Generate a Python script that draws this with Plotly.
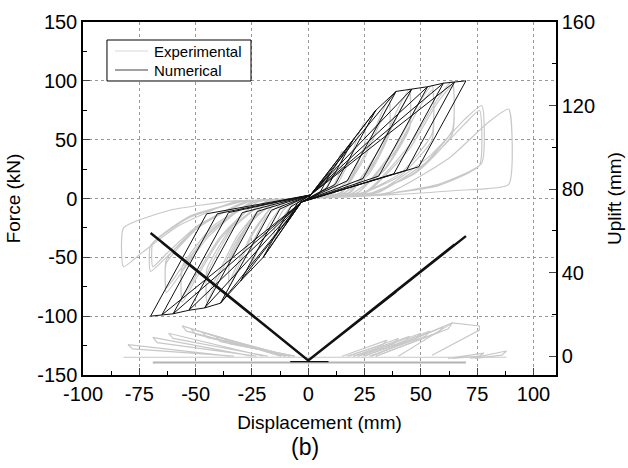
import plotly.graph_objects as go

# ---- numerical model: loop parameters ----
num_amp = [10, 20, 30, 39, 46, 53, 60, 65, 70]
num_peak_pos = [22, 50, 75, 91, 93, 95, 98, 99, 100]
num_peak_neg = [-22, -50, -70, -89, -93, -95, -98, -99, -100]
num_unload_x_pos = [4.9, 8.3, 12.0, 17.3, 24.3, 31.3, 38.0, 43.6, 49.1]
num_unload_f_pos = [4, 9, 12, 15, 17, 19, 21, 24, 27]
num_unload_x_neg = [-4.9, -7.7, -12.6, -16.4, -22.6, -29.3, -35.4, -40.4, -45.1]
num_unload_f_neg = [-4, -7, -9, -10, -11, -12, -12, -13, -13]
num_pinch_pos = [1, 3]
num_pinch_neg = [-3, -3]

num_uplift_pos = [6.5, 15, 23.5, 31, 37, 43, 49, 53.5, 57.5]
num_uplift_neg = [6.7, 15.4, 24, 32, 38, 44, 50, 54.5, 59]
num_uplift_base = -2
num_flat_disp = [-8, 9]
num_flat_uplift = [-2.6, -2.6]

# ---- experimental force-displacement (cycle by cycle) ----
exp_disp = [
    0, 6, 10.5, 13.5, 15, 15, 11.2, 6,
    0, -6, -10.5, -13.5, -15, -15, -11.2, -6,
    0, 10, 17.5, 22.5, 25, 25, 18.8, 10,
    0, -10, -17.5, -22.5, -25, -25, -18.8, -10,
    0, 14.4, 25.2, 32.4, 36, 36, 27, 14.4,
    0, -14, -24.5, -31.5, -35, -35, -26.2, -14,
    0, 14.4, 25.2, 32.4, 36, 36, 27, 14.4,
    0, -14, -24.5, -31.5, -35, -35, -26.2, -14,
    0, 18, 31.5, 40.5, 45, 45, 33.8, 18,
    0, -18, -31.5, -40.5, -45, -45, -33.8, -18,
    0, 18, 31.5, 40.5, 45, 45, 33.8, 18,
    0, -18, -31.5, -40.5, -45, -45, -33.8, -18,
    0, 22, 38.5, 49.5, 55, 55, 41.3, 22,
    0, -22.4, -39.2, -50.4, -56, -56, -42, -22.4,
    0, 22, 38.5, 49.5, 55, 55, 41.3, 22,
    0, -22.4, -39.2, -50.4, -56, -56, -42, -22.4,
    0, 25.6, 44.8, 57.6, 64, 64, 48, 25.6,
    0, -25.2, -44.1, -56.7, -63, -63, -47.2, -25.2,
    0, 25.6, 44.8, 57.6, 64, 64, 48, 25.6,
    0, -25.2, -44.1, -56.7, -63, -63, -47.2, -25.2,
    0, 30.8, 53.9, 69.3, 77, 77, 57.8, 30.8,
    0, -28, -49, -63, -70, -70, -52.5, -28,
    0, 30.8, 53.9, 69.3, 76, 76, 57.8, 30.8,
    0, -28, -49, -63, -69, -69, -52.5, -28,
    0, 35.6, 62.3, 80.1, 89, 89, 66.8, 35.6,
    0, -32.8, -57.4, -73.8, -82, -82, -61.5, -32.8, 0,
]
exp_force = [
    0, 4, 18, 34, 40, 28, 11, 3,
    0, -3, -14, -28, -35, -25, -10, -2,
    0, 4, 29, 55, 65, 45, 18, 3,
    0, -3, -22, -44, -55, -40, -16, -2,
    0, 5, 38, 72, 85, 58, 23, 3,
    0, -3, -30, -60, -75, -55, -22, -2,
    0, 4, 35, 67, 80, 55, 21, 3,
    0, -3, -28, -56, -70, -52, -20, -2,
    0, 5, 42, 79, 93, 62, 25, 3,
    0, -3, -35, -70, -88, -65, -26, -2,
    0, 4, 38, 74, 88, 60, 24, 3,
    0, -3, -32, -66, -82, -60, -24, -2,
    0, 5, 43, 82, 96, 55, 22, 3,
    0, -3, -35, -70, -88, -62, -25, -2,
    0, 5, 40, 78, 92, 50, 20, 3,
    0, -3, -33, -67, -84, -58, -23, -2,
    0, 6, 45, 85, 100, 58, 23, 3,
    0, -3, -32, -64, -80, -55, -22, -2,
    0, 5, 42, 82, 96, 55, 22, 3,
    0, -3, -30, -60, -76, -52, -21, -2,
    0, 6, 36, 67, 79, 30, 12, 3,
    0, -3, -25, -50, -62, -40, -16, -2,
    0, 5, 33, 63, 75, 28, 11, 3,
    0, -3, -23, -47, -58, -38, -15, -2,
    0, 5, 34, 65, 76, 12, 7, 3,
    0, -3, -23, -46, -58, -25, -10, -2, 0,
]

# ---- experimental uplift ----
exp_uplift_disp = [
    -35, -80, -78, -33, None, -25, -69, -67, -23, None,
    -20, -62, -60, -18, None, -12, -56, -54, -10, None,
    -12, -52, -50, -10, None, -10, -47, -45, -8, None,
    -8, -41, -39, -6, None, -8, -37, -35, -6, None,
    15, 35, 33, 17, None, 18, 40, 38, 20, None,
    20, 45, 43, 22, None, 22, 50, 48, 24, None,
    25, 54, 52, 27, None, 28, 60, 58, 30, None,
    28, 64, 62, 30, None, 40, 64, 76, 76, 55, None,
    62, 78, 76, 64, None, 72, 88, 86, 74, None,
    -82, 88,
]
exp_uplift = [
    0, 5.5, 3.5, 0, None, 0, 9, 6.5, 0, None,
    0, 11, 8.5, 0, None, 0, 14.5, 12, 0, None,
    0, 13, 10.5, 0, None, 0, 11.5, 9, 0, None,
    0, 9.5, 7, 0, None, 0, 8, 6, 0, None,
    0, 7.7, 5.5, 0, None, 0, 8.5, 6, 0, None,
    0, 9.5, 7, 0, None, 0, 11, 8.5, 0, None,
    0, 12, 9.5, 0, None, 0, 14, 11.5, 0, None,
    0, 16, 13, 0, None, 0, 16, 14.5, 12.5, 0.5, None,
    -1, 1.5, 0, -1, None, -1, 2.5, 0.5, -1, None,
    -0.5, -0.5,
]
exp_base_disp = [-69, 70]
exp_base_uplift = [-3, -3]

legend_names = ['Experimental', 'Numerical']

x_tickvals = [-100, -75, -50, -25, 0, 25, 50, 75, 100]
x_ticktext = ['-100', '-75', '-50', '-25', '0', '25', '50', '75', '100']
y_tickvals = [-150, -100, -50, 0, 50, 100, 150]
y_ticktext = ['-150', '-100', '-50', '0', '50', '100', '150']
y2_tickvals = [0, 40, 80, 120, 160]
y2_ticktext = ['0', '40', '80', '120', '160']

# build the numerical paths from the read parameters
num_disp, num_force = [0, num_pinch_pos[0]], [0, num_pinch_pos[1]]
up_disp, up_val = [0], [num_uplift_base]
for i, a in enumerate(num_amp):
    if i > 0:
        num_disp.append(num_amp[i - 1]); num_force.append(num_peak_pos[i - 1])
    num_disp += [a, num_unload_x_pos[i], num_pinch_neg[0]]
    num_force += [num_peak_pos[i], num_unload_f_pos[i], num_pinch_neg[1]]
    if i > 0:
        num_disp.append(-num_amp[i - 1]); num_force.append(num_peak_neg[i - 1])
    num_disp += [-a, num_unload_x_neg[i], num_pinch_pos[0]]
    num_force += [num_peak_neg[i], num_unload_f_neg[i], num_pinch_pos[1]]
    for rep in range(2):
        up_disp += [a, 0, -a, 0]
        up_val += [num_uplift_pos[i], num_uplift_base, num_uplift_neg[i], num_uplift_base]

exp_col = '#c8c8c8'
num_col = '#111111'

fig = go.Figure()
fig.add_trace(go.Scatter(x=exp_base_disp, y=exp_base_uplift, yaxis='y2', mode='lines',
                         line=dict(color='#b4b4b4', width=2), showlegend=False))
fig.add_trace(go.Scatter(x=exp_uplift_disp, y=exp_uplift, yaxis='y2', mode='lines',
                         line=dict(color=exp_col, width=1.2), showlegend=False))
fig.add_trace(go.Scatter(x=exp_disp, y=exp_force, mode='lines', name=legend_names[0],
                         showlegend=False,
                         line=dict(color=exp_col, width=1.2, shape='spline', smoothing=0.5)))
fig.add_trace(go.Scatter(x=num_disp, y=num_force, mode='lines', name=legend_names[1],
                         showlegend=False, line=dict(color=num_col, width=1)))
fig.add_trace(go.Scatter(x=up_disp, y=up_val, yaxis='y2', mode='lines',
                         line=dict(color=num_col, width=2.4), showlegend=False))
fig.add_trace(go.Scatter(x=num_flat_disp, y=num_flat_uplift, yaxis='y2', mode='lines',
                         line=dict(color=num_col, width=1.2), showlegend=False))

font = 'Liberation Sans, Arial, sans-serif'
tickfont = dict(family=font, size=20, color='black')
titlefont = dict(family=font, size=19, color='black')

# hand-drawn legend box (Origin style)
shapes = [
    dict(type='rect', xref='paper', yref='paper', x0=0.0507, x1=0.3552, y0=0.8329, y1=0.949,
         line=dict(color='black', width=1), fillcolor='white', layer='above'),
    dict(type='line', xref='paper', yref='paper', x0=0.0677, x1=0.1374, y0=0.9178, y1=0.9178,
         line=dict(color='#d8d8d8', width=1.2), layer='above'),
    dict(type='line', xref='paper', yref='paper', x0=0.0677, x1=0.1374, y0=0.864, y1=0.864,
         line=dict(color='#444444', width=1.2), layer='above'),
]
annotations = [
    dict(text=legend_names[0], x=0.146, y=0.9178, xref='paper', yref='paper', showarrow=False,
         xanchor='left', yanchor='middle', font=dict(family=font, size=15)),
    dict(text=legend_names[1], x=0.146, y=0.864, xref='paper', yref='paper', showarrow=False,
         xanchor='left', yanchor='middle', font=dict(family=font, size=15)),
    dict(text='(b)', x=0.469, y=-0.204, xref='paper', yref='paper',
         showarrow=False, font=dict(family=font, size=23), yanchor='middle'),
]

fig.update_layout(
    width=628, height=468,
    margin=dict(l=83, r=72, t=22, b=93),
    paper_bgcolor='white', plot_bgcolor='white',
    font=dict(family=font, size=19, color='black'),
    showlegend=False,
    xaxis=dict(range=[-100, 110], tickvals=x_tickvals, ticktext=x_ticktext,
               ticks='inside', ticklen=7,
               showline=True, linecolor='black', linewidth=1.5, mirror=True,
               showgrid=True, gridcolor='#999999', griddash='dot', gridwidth=1,
               zeroline=False, automargin=False, tickfont=tickfont,
               minor=dict(dtick=12.5, tick0=-100, ticks='inside', ticklen=4,
                          tickcolor='black', showgrid=False),
               title=dict(text='Displacement (mm)', font=titlefont, standoff=12)),
    yaxis=dict(range=[-150, 150], tickvals=y_tickvals, ticktext=y_ticktext,
               ticks='inside', ticklen=7,
               showline=True, linecolor='black', linewidth=1.5,
               showgrid=True, gridcolor='#999999', griddash='dot', gridwidth=1,
               zeroline=False, automargin=False, tickfont=tickfont,
               minor=dict(dtick=25, tick0=-150, ticks='inside', ticklen=4,
                          tickcolor='black', showgrid=False),
               title=dict(text='Force (kN)', font=titlefont, standoff=12)),
    yaxis2=dict(range=[-9, 160], tickvals=y2_tickvals, ticktext=y2_ticktext,
                ticks='inside', ticklen=7,
                overlaying='y', side='right', showline=True, linecolor='black', linewidth=1.5,
                showgrid=False, zeroline=False, automargin=False, tickfont=tickfont,
                minor=dict(dtick=20, tick0=0, ticks='inside', ticklen=4, tickcolor='black'),
                title=dict(text='Uplift (mm)', font=titlefont, standoff=14)),
    shapes=shapes,
    annotations=annotations,
)

fig.write_html("out.html", config={'displayModeBar': False},
               post_script="document.body.style.margin='0';")
